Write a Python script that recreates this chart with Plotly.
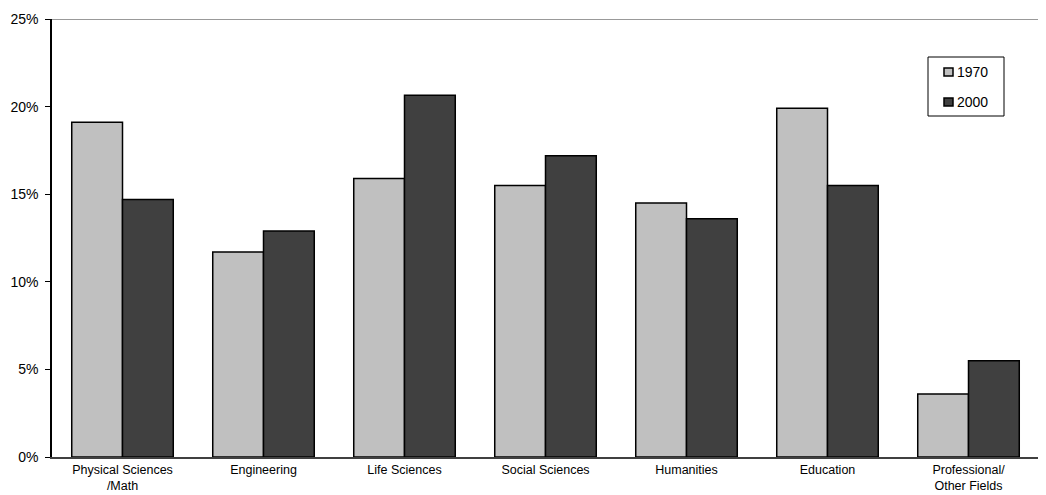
import plotly.graph_objects as go

categories = ["Physical Sciences<br>/Math", "Engineering", "Life Sciences", "Social Sciences",
              "Humanities", "Education", "Professional/<br>Other Fields"]
series_names = ["1970", "2000"]
v1970 = [19.1, 11.7, 15.9, 15.5, 14.5, 19.9, 3.6]
v2000 = [14.7, 12.9, 20.65, 17.2, 13.6, 15.5, 5.5]
y_ticks = [0, 5, 10, 15, 20, 25]
y_labels = ["0%", "5%", "10%", "15%", "20%", "25%"]
colors = ["#c0c0c0", "#404040"]

fig = go.Figure()
for name, vals, col in zip(series_names, [v1970, v2000], colors):
    fig.add_trace(go.Bar(name=name, x=categories, y=vals,
                         marker=dict(color=col, line=dict(color="#000000", width=1.5))))

# plot area in page pixels: x 52..1039, y 19..457 (page has 8px body offset)
def px(x):
    return (x - 52) / 987

def py(y):
    return (457 - y) / 438

fig.update_layout(
    width=1046, height=495,
    margin=dict(l=44, r=15, t=11, b=46, autoexpand=False),
    paper_bgcolor="white", plot_bgcolor="white",
    barmode="group", bargap=0.28, bargroupgap=0,
    font=dict(family="Liberation Sans, Arial, sans-serif", color="#000000"),
    showlegend=False,
    xaxis=dict(showline=True, linecolor="#404040", linewidth=1.5, ticks="",
               tickfont=dict(size=12.5), showgrid=False),
    yaxis=dict(range=[0, 25], tickvals=y_ticks, ticktext=y_labels, showline=True,
               linecolor="#000000", linewidth=1.5, ticks="outside", ticklen=5,
               tickcolor="#000000", showgrid=False, zeroline=False,
               tickfont=dict(size=14), ticklabelstandoff=4),
)
fig.add_shape(type="line", xref="paper", yref="y", x0=0, x1=1.01, y0=25, y1=25,
              line=dict(color="#999999", width=2))

# manual legend
fig.add_shape(type="rect", xref="paper", yref="paper", x0=px(928), x1=px(1004),
              y0=py(116), y1=py(57), line=dict(color="#000000", width=1), fillcolor="white")
for i, (name, col) in enumerate(zip(series_names, colors)):
    cy = 72 + 30 * i
    fig.add_shape(type="rect", xref="paper", yref="paper", x0=px(944), x1=px(953),
                  y0=py(cy + 4), y1=py(cy - 4), line=dict(color="#000000", width=1.5),
                  fillcolor=col)
    fig.add_annotation(xref="paper", yref="paper", x=px(955), y=py(cy), text=name,
                       showarrow=False, xanchor="left", yanchor="middle",
                       font=dict(size=14))
fig.write_html("out.html")
